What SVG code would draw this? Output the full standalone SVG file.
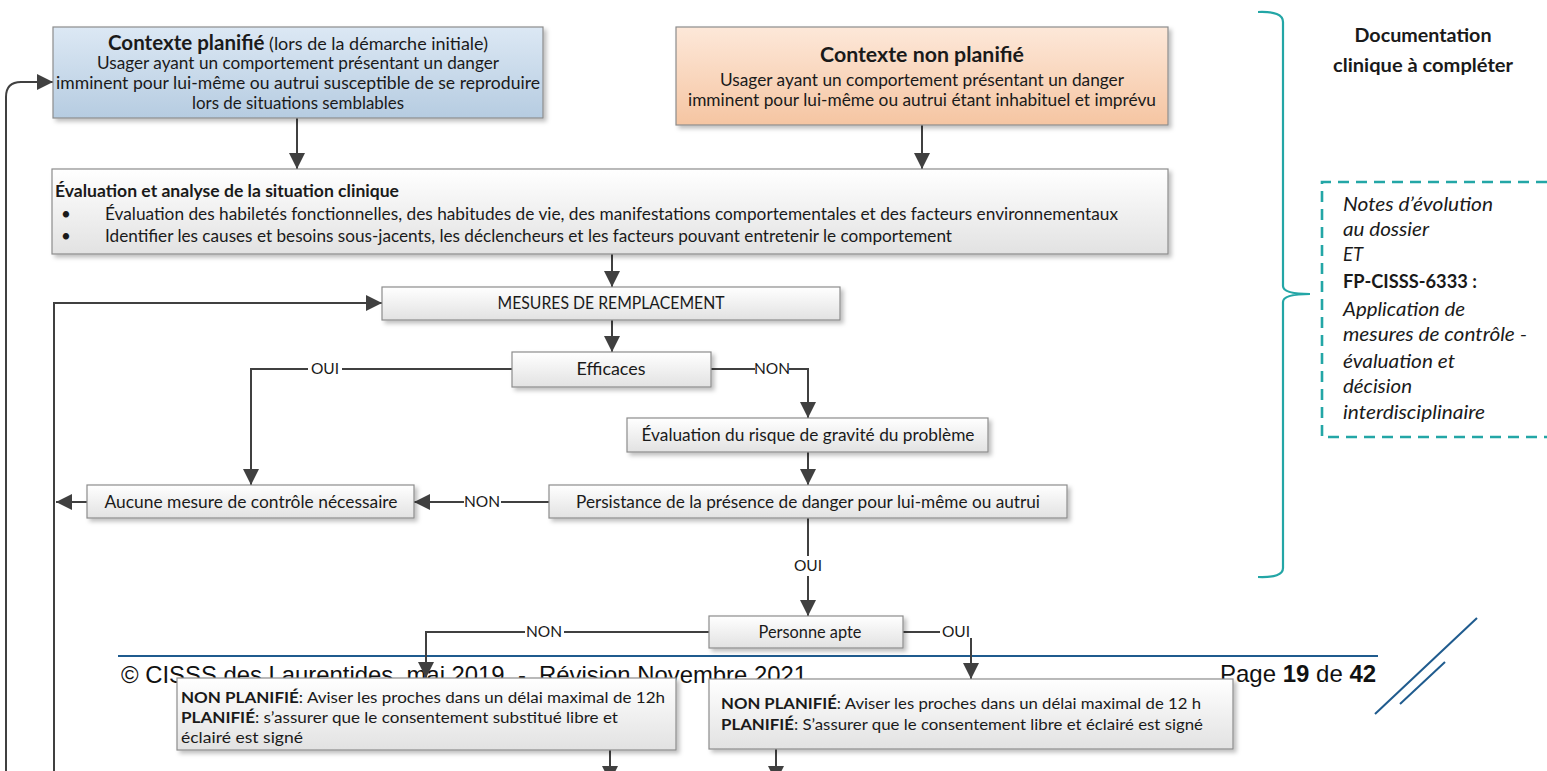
<svg xmlns="http://www.w3.org/2000/svg" width="1547" height="771" viewBox="0 0 1547 771">
<style>
.bx{fill:url(#gw);stroke:#8c8c8c;stroke-width:1.2;filter:url(#sh)}
.t{font-family:Lato,"Liberation Sans",sans-serif;fill:#1a1a1a}
.b{font-weight:bold}
.i{font-style:italic}
.m{text-anchor:middle}
.c{stroke:#404040;stroke-width:2;fill:none}
.a{marker-end:url(#ah)}
.lb{font-family:Lato,"Liberation Sans",sans-serif;font-size:15.5px;fill:#1a1a1a;text-anchor:middle}
.ft{font-family:"Liberation Sans",Arial,sans-serif;font-size:24px;fill:#111}
.bl{stroke:#1f5b8e;stroke-width:2;fill:none}
.tl{stroke:#23a6a6;fill:none}
</style>
<defs>
<linearGradient id="gw" x1="0" y1="0" x2="0" y2="1"><stop offset="0" stop-color="#ffffff"/><stop offset="1" stop-color="#e2e2e2"/></linearGradient>
<linearGradient id="gb" x1="0" y1="0" x2="0" y2="1"><stop offset="0" stop-color="#dce8f4"/><stop offset="1" stop-color="#b6cce1"/></linearGradient>
<linearGradient id="go" x1="0" y1="0" x2="0" y2="1"><stop offset="0" stop-color="#fde8d9"/><stop offset="1" stop-color="#f5c5a2"/></linearGradient>
<filter id="sh" x="-5%" y="-20%" width="110%" height="150%"><feDropShadow dx="3" dy="3" stdDeviation="2" flood-color="#000" flood-opacity="0.25"/></filter>
<marker id="ah" markerUnits="userSpaceOnUse" markerWidth="16" markerHeight="16" viewBox="0 0 14 14" refX="14" refY="7" orient="auto"><path d="M0,0 L14,7 L0,14 z" fill="#404040"/></marker>
</defs>

<g id="footer">
<line class="bl" x1="118" y1="656" x2="1378" y2="656"/>
<text class="ft" x="121" y="683" textLength="686" lengthAdjust="spacingAndGlyphs">© CISSS des Laurentides, mai 2019 &#160;- &#160;Révision Novembre 2021</text>
<text class="ft" x="1220" y="682">Page <tspan font-weight="bold">19</tspan> de <tspan font-weight="bold">42</tspan></text>
<line class="bl" x1="1375" y1="714" x2="1477" y2="618"/>
<line class="bl" x1="1400" y1="704" x2="1445" y2="662"/>
</g>

<g id="connectors">
<path class="c a" d="M6,782 V97 Q6,82 21,82 H53"/>
<path class="c a" d="M54,782 V303 H382"/>
<path class="c a" d="M297,118 V169"/>
<path class="c a" d="M922,125 V169"/>
<path class="c a" d="M612,254 V287"/>
<path class="c a" d="M612,320 V352"/>
<path class="c" d="M512,369 H342"/>
<path class="c a" d="M308,369 H251 V485"/>
<path class="c" d="M711,369 H755"/>
<path class="c a" d="M789,369 H808 V418"/>
<path class="c a" d="M808,452 V485"/>
<path class="c" d="M549,502 H501"/>
<path class="c a" d="M464,502 H414"/>
<path class="c a" d="M87,502 H56"/>
<path class="c" d="M808,518 V556"/>
<path class="c a" d="M808,576 V616"/>
<path class="c" d="M709,632 H564"/>
<path class="c a" d="M525,632 H426 V678"/>
<path class="c" d="M903,632 H940"/>
<path class="c a" d="M971,638 V679"/>
<path class="c a" d="M610,750 V782"/>
<path class="c a" d="M776,749 V782"/>
<text class="lb" x="325" y="374">OUI</text>
<text class="lb" x="772" y="374">NON</text>
<text class="lb" x="482" y="507">NON</text>
<text class="lb" x="808" y="571">OUI</text>
<text class="lb" x="544" y="637">NON</text>
<text class="lb" x="956" y="637">OUI</text>
</g>

<g id="ctx-planifie">
<rect class="bx" x="53" y="27" width="490" height="91" style="fill:url(#gb)"/>
<text class="t m" x="298" y="50" font-size="20" textLength="380" lengthAdjust="spacingAndGlyphs"><tspan class="b">Contexte planifié</tspan><tspan font-size="17.5"> (lors de la démarche initiale)</tspan></text>
<text class="t m" x="298" y="69" font-size="17.5" textLength="402" lengthAdjust="spacingAndGlyphs">Usager ayant un comportement présentant un danger</text>
<text class="t m" x="298" y="89" font-size="17.5" textLength="484" lengthAdjust="spacingAndGlyphs">imminent pour lui-même ou autrui susceptible de se reproduire</text>
<text class="t m" x="298" y="109" font-size="17.5" textLength="212" lengthAdjust="spacingAndGlyphs">lors de situations semblables</text>
</g>

<g id="ctx-non-planifie">
<rect class="bx" x="676" y="27" width="492" height="98" style="fill:url(#go)"/>
<text class="t m b" x="922" y="62" font-size="20" textLength="204" lengthAdjust="spacingAndGlyphs">Contexte non planifié</text>
<text class="t m" x="922" y="86" font-size="17.5" textLength="404" lengthAdjust="spacingAndGlyphs">Usager ayant un comportement présentant un danger</text>
<text class="t m" x="922" y="106" font-size="17.5" textLength="468" lengthAdjust="spacingAndGlyphs">imminent pour lui-même ou autrui étant inhabituel et imprévu</text>
</g>

<g id="evaluation">
<rect class="bx" x="52" y="169" width="1116" height="85"/>
<text class="t b" x="55" y="197" font-size="17" textLength="344" lengthAdjust="spacingAndGlyphs">Évaluation et analyse de la situation clinique</text>
<text class="t" x="61" y="220" font-size="17">•</text>
<text class="t" x="105" y="220" font-size="17" textLength="1013" lengthAdjust="spacingAndGlyphs">Évaluation des habiletés fonctionnelles, des habitudes de vie, des manifestations comportementales et des facteurs environnementaux</text>
<text class="t" x="61" y="242" font-size="17">•</text>
<text class="t" x="105" y="242" font-size="17" textLength="847" lengthAdjust="spacingAndGlyphs">Identifier les causes et besoins sous-jacents, les déclencheurs et les facteurs pouvant entretenir le comportement</text>
</g>

<g id="mesures">
<rect class="bx" x="382" y="287" width="458" height="33"/>
<text class="t m" x="611" y="309" font-size="17" textLength="227" lengthAdjust="spacingAndGlyphs">MESURES DE REMPLACEMENT</text>
</g>

<g id="efficaces">
<rect class="bx" x="512" y="352" width="199" height="35"/>
<text class="t m" x="611" y="375" font-size="17.5" textLength="69" lengthAdjust="spacingAndGlyphs">Efficaces</text>
</g>

<g id="evaluation-risque">
<rect class="bx" x="627" y="418" width="361" height="34"/>
<text class="t m" x="808" y="441" font-size="17.5" textLength="333" lengthAdjust="spacingAndGlyphs">Évaluation du risque de gravité du problème</text>
</g>

<g id="aucune-mesure">
<rect class="bx" x="87" y="485" width="327" height="33"/>
<text class="t m" x="251" y="508" font-size="17.5" textLength="293" lengthAdjust="spacingAndGlyphs">Aucune mesure de contrôle nécessaire</text>
</g>

<g id="persistance">
<rect class="bx" x="549" y="485" width="518" height="33"/>
<text class="t m" x="808" y="508" font-size="17.5" textLength="464" lengthAdjust="spacingAndGlyphs">Persistance de la présence de danger pour lui-même ou autrui</text>
</g>

<g id="personne-apte">
<rect class="bx" x="709" y="616" width="194" height="32"/>
<text class="t m" x="810" y="638" font-size="17" textLength="103" lengthAdjust="spacingAndGlyphs">Personne apte</text>
</g>

<g id="inapte">
<rect class="bx" x="177" y="678" width="499" height="72"/>
<text class="t" x="181" y="703" font-size="16" textLength="484" lengthAdjust="spacingAndGlyphs"><tspan class="b">NON PLANIFIÉ</tspan>: Aviser les proches dans un délai maximal de 12h</text>
<text class="t" x="181" y="723" font-size="16" textLength="437" lengthAdjust="spacingAndGlyphs"><tspan class="b">PLANIFIÉ</tspan>: s’assurer que le consentement substitué libre et</text>
<text class="t" x="181" y="743" font-size="16" textLength="122" lengthAdjust="spacingAndGlyphs">éclairé est signé</text>
</g>

<g id="apte">
<rect class="bx" x="709" y="679" width="524" height="70"/>
<text class="t" x="721" y="709" font-size="16" textLength="480" lengthAdjust="spacingAndGlyphs"><tspan class="b">NON PLANIFIÉ</tspan>: Aviser les proches dans un délai maximal de 12 h</text>
<text class="t" x="721" y="730" font-size="16" textLength="482" lengthAdjust="spacingAndGlyphs"><tspan class="b">PLANIFIÉ</tspan>: S’assurer que le consentement libre et éclairé est signé</text>
</g>

<g id="documentation">
<path class="tl" stroke-width="2.2" d="M1258,12 Q1283,11 1283,22 V286 Q1283,294 1310,294 Q1283,294 1283,302 V568 Q1283,578 1258,577"/>
<text class="t m b" x="1423" y="42" font-size="18.5" textLength="137" lengthAdjust="spacingAndGlyphs">Documentation</text>
<text class="t m b" x="1423" y="72" font-size="18.5" textLength="180" lengthAdjust="spacingAndGlyphs">clinique à compléter</text>
</g>

<g id="notes">
<path class="tl" stroke-width="2.6" stroke-dasharray="11 7" d="M1547,182 H1322 V437 H1547"/>
<g class="t" font-size="18.5">
<text class="i" x="1343" y="211" textLength="150" lengthAdjust="spacingAndGlyphs">Notes d’évolution</text>
<text class="i" x="1343" y="236" textLength="86" lengthAdjust="spacingAndGlyphs">au dossier</text>
<text class="i" x="1343" y="261">ET</text>
<text class="b" x="1343" y="288" textLength="134" lengthAdjust="spacingAndGlyphs">FP-CISSS-6333 :</text>
<text class="i" x="1343" y="316" textLength="122" lengthAdjust="spacingAndGlyphs">Application de</text>
<text class="i" x="1343" y="341" textLength="184" lengthAdjust="spacingAndGlyphs">mesures de contrôle -</text>
<text class="i" x="1343" y="368" textLength="112" lengthAdjust="spacingAndGlyphs">évaluation et</text>
<text class="i" x="1343" y="393" textLength="69" lengthAdjust="spacingAndGlyphs">décision</text>
<text class="i" x="1343" y="419" textLength="142" lengthAdjust="spacingAndGlyphs">interdisciplinaire</text>
</g>
</g>
</svg>
